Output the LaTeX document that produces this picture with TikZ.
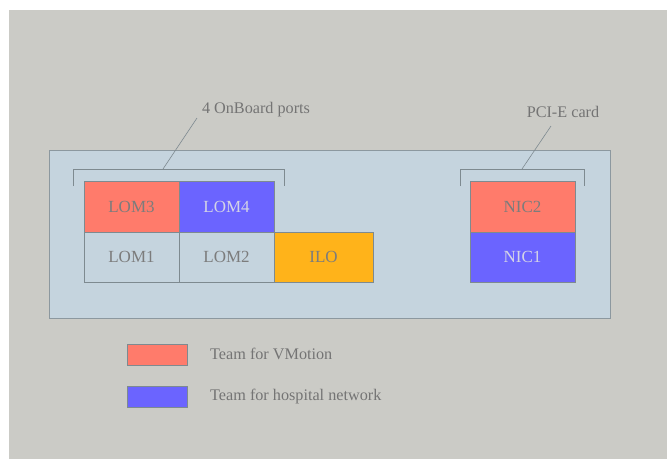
\documentclass[tikz,border=0pt]{standalone}
\usepackage{fontspec}
\setmainfont{Liberation Serif}
\definecolor{bgc}{HTML}{CBCBC6}
\definecolor{panelc}{HTML}{C5D4DE}
\definecolor{panelline}{HTML}{8C989F}
\definecolor{salmonc}{HTML}{FF7B6B}
\definecolor{bluec}{HTML}{6B64FF}
\definecolor{orangec}{HTML}{FFB31A}
\definecolor{txtc}{HTML}{747474}
\definecolor{celltxt}{HTML}{7C7C7C}
\definecolor{celltxtlight}{HTML}{D4D4E6}
\definecolor{linec}{HTML}{7E8A90}
\tikzset{
  cell/.style={draw=linec, line width=0.8pt, anchor=north west, inner sep=0pt, outer sep=0pt,
    text=celltxt, font=\fontsize{17}{17}\selectfont},
  legbox/.style={draw=linec, line width=0.8pt, anchor=north west, inner sep=0pt, outer sep=0pt,
    minimum width=60pt, minimum height=21.5pt},
  lbl/.style={text=txtc, inner sep=0pt, font=\fontsize{16.2}{16.2}\selectfont},
  bracketline/.style={draw=linec, line width=0.8pt},
  leader/.style={draw=linec, line width=0.6pt}
}
\begin{document}
\begin{tikzpicture}[x=1pt,y=-1pt]
\useasboundingbox (0,0) rectangle (667,459);
\fill[bgc] (9,10) rectangle (667,459);
% panel
\node[draw=panelline, fill=panelc, line width=0.8pt, anchor=north west, inner sep=0pt,
  minimum width=561pt, minimum height=168pt] (panel) at (49,150) {};
% cells
\node[cell, fill=salmonc, minimum width=95pt, minimum height=51pt] (lom3) at (84,181) {LOM3};
\node[cell, fill=bluec, text=celltxtlight, minimum width=95pt, minimum height=51pt] (lom4) at (179,181) {LOM4};
\node[cell, fill=panelc, minimum width=95pt, minimum height=50pt] (lom1) at (84,232) {LOM1};
\node[cell, fill=panelc, minimum width=95pt, minimum height=50pt] (lom2) at (179,232) {LOM2};
\node[cell, fill=orangec, minimum width=99pt, minimum height=50pt] (ilo) at (274,232) {ILO};
\node[cell, fill=salmonc, minimum width=105pt, minimum height=51pt] (nic2) at (470,181) {NIC2};
\node[cell, fill=bluec, text=celltxtlight, minimum width=105pt, minimum height=50pt] (nic1) at (470,232) {NIC1};
% brackets
\coordinate (b1a) at (73,186);
\coordinate (b1b) at (73,169);
\coordinate (b1c) at (284,169);
\coordinate (b1d) at (284,186);
\coordinate (b1m) at (163,169);
\draw[bracketline] (b1a) -- (b1b) -- (b1c) -- (b1d);
\coordinate (b2a) at (460,186);
\coordinate (b2b) at (460,169);
\coordinate (b2c) at (584,169);
\coordinate (b2d) at (584,186);
\coordinate (b2m) at (522,169);
\draw[bracketline] (b2a) -- (b2b) -- (b2c) -- (b2d);
% labels
\node[lbl] (ports) at (256,110) {4 OnBoard ports};
\node[lbl] (pcie) at (563,112) {PCI-E card};
\coordinate (l1) at (197,118);
\coordinate (l2) at (551,126);
\draw[leader] (b1m) -- (l1);
\draw[leader] (b2m) -- (l2);
% legend
\node[legbox, fill=salmonc] (legr) at (127,344) {};
\node[legbox, fill=bluec] (legb) at (127,386) {};
\node[lbl, anchor=west] (legrt) at (210,354) {Team for VMotion};
\node[lbl, anchor=west] (legbt) at (210,397) {Team for hospital network};
\end{tikzpicture}
\end{document}
